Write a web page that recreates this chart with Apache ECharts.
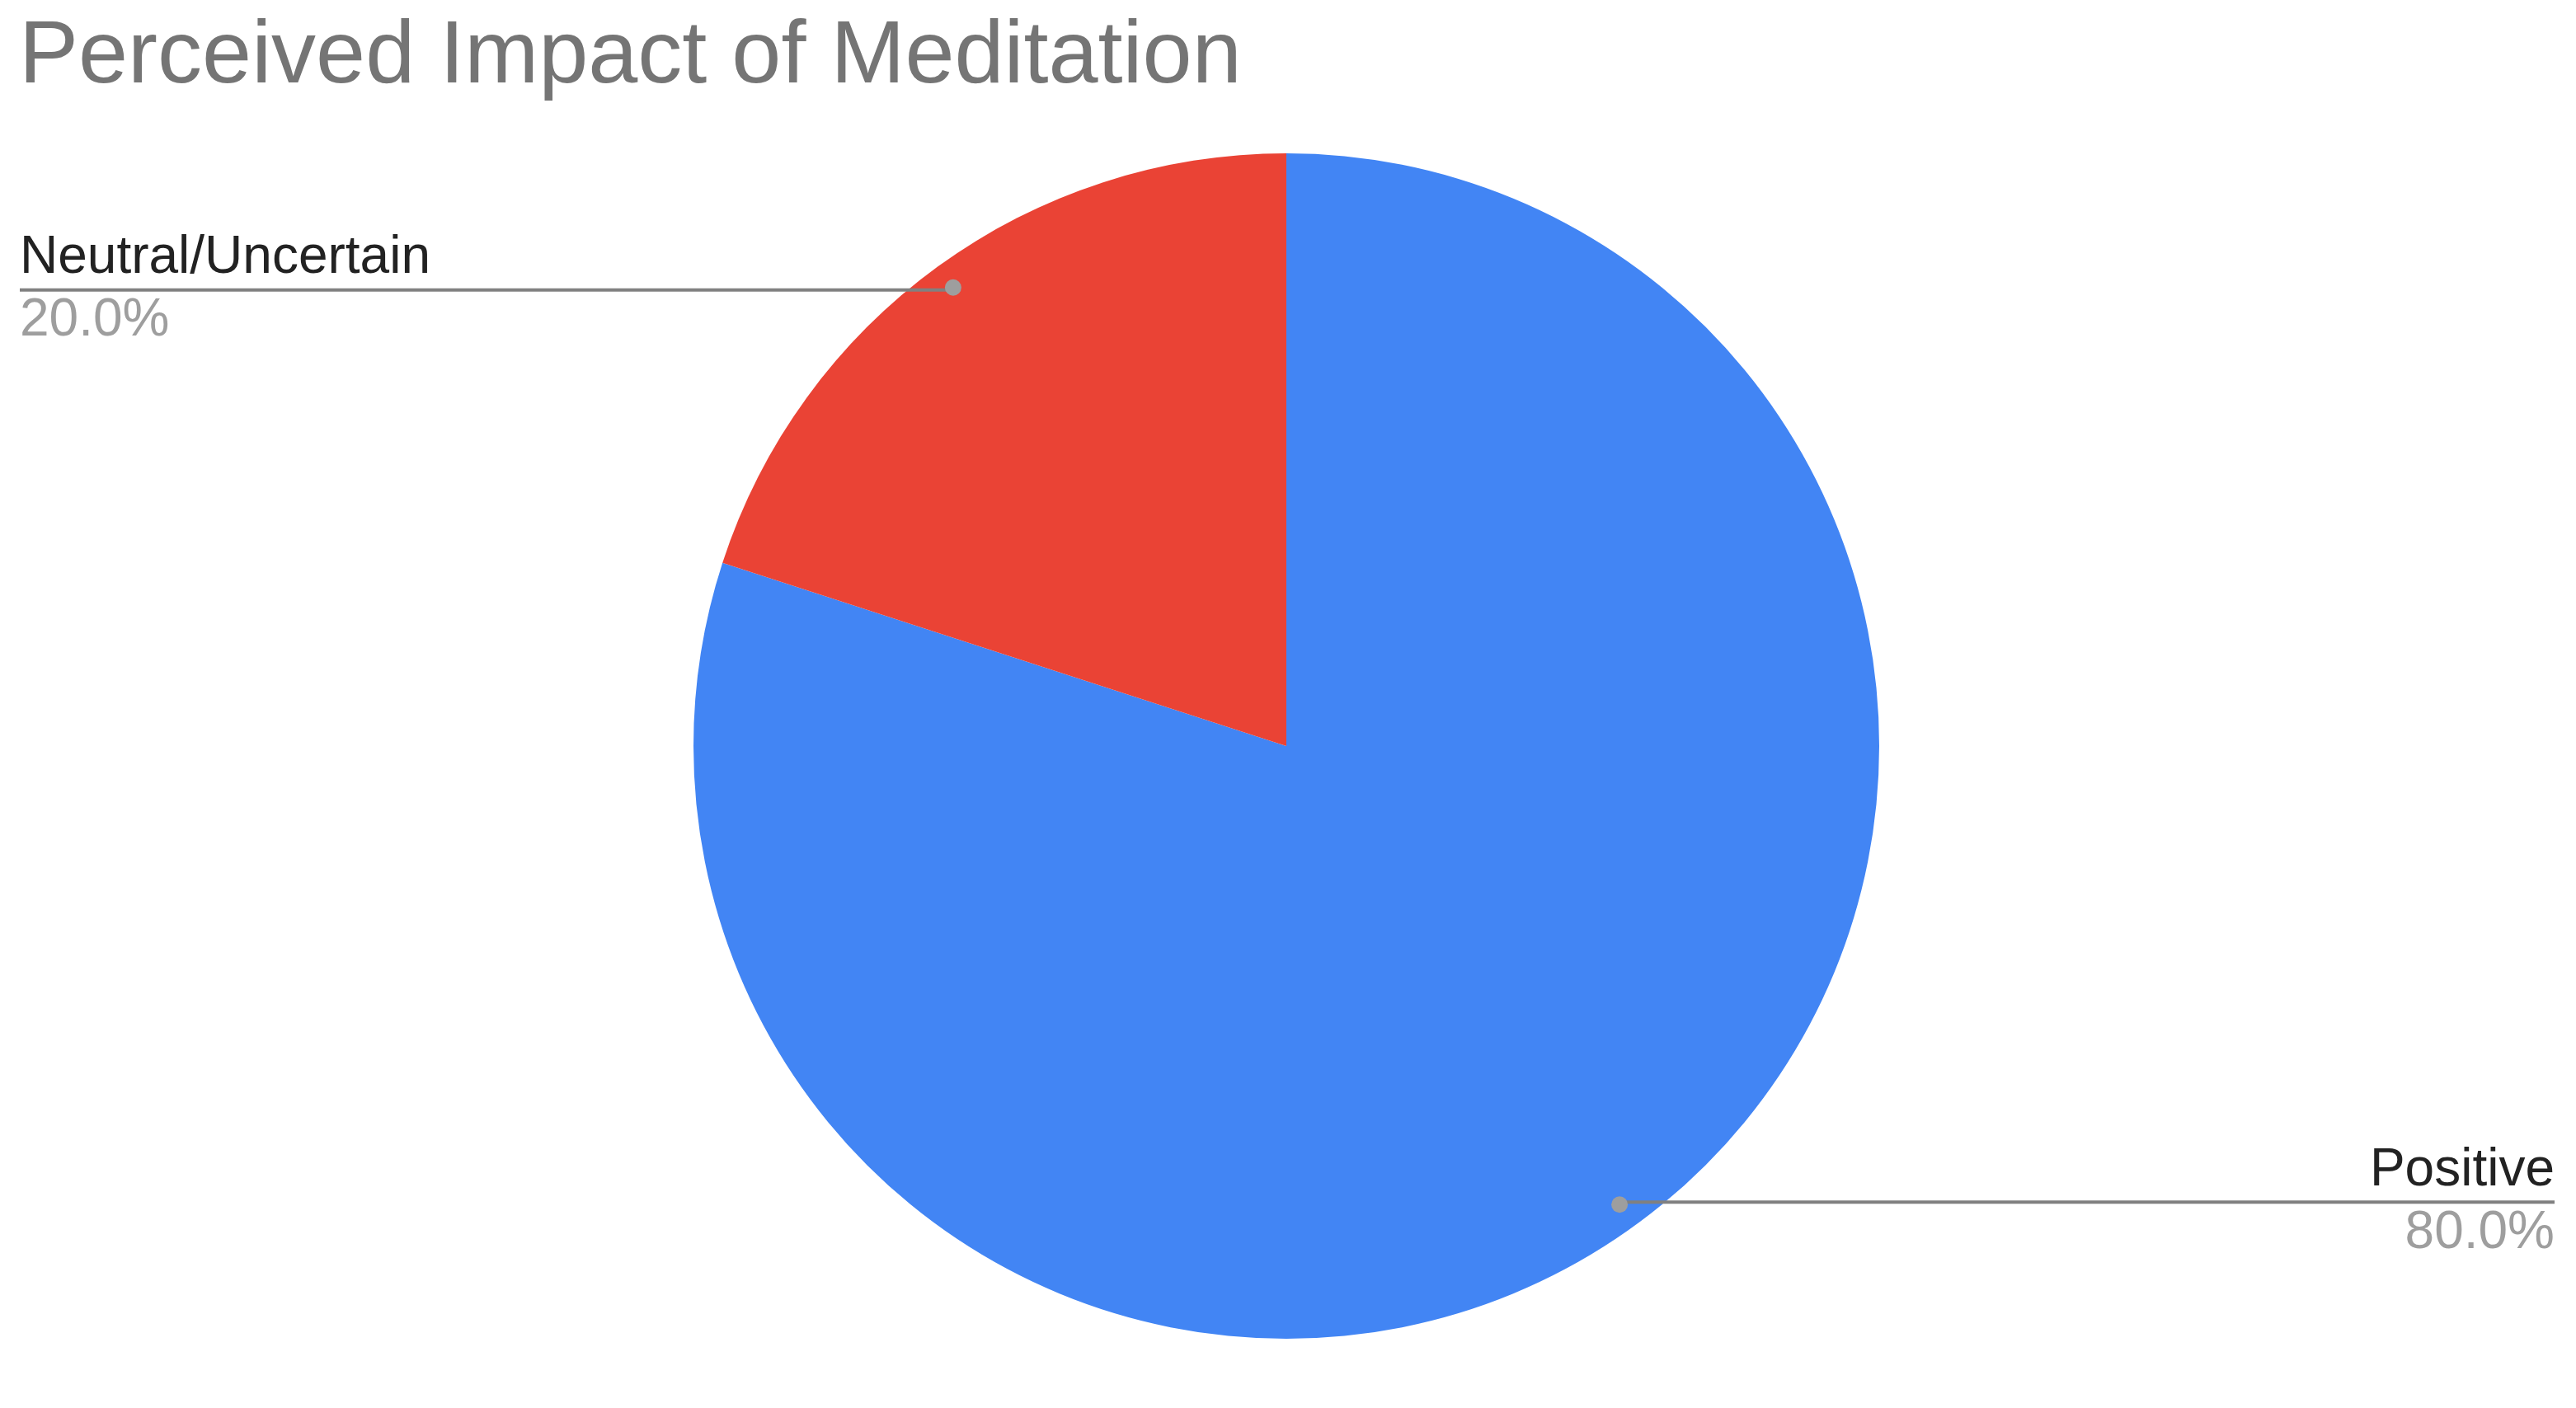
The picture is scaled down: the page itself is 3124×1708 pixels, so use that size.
<!DOCTYPE html>
<html>
<head>
<meta charset="utf-8">
<script src="https://cdn.jsdelivr.net/npm/echarts@6/dist/echarts.min.js"></script>
<style>
html,body{margin:0;padding:0;background:#fff;}
#main{width:3124px;height:1708px;}
</style>
</head>
<body>
<div id="main"></div>
<script>
const titleText = 'Perceived Impact of Meditation';
const categories = ['Positive', 'Neutral/Uncertain'];
const values = [80, 20];
const colors = ['#4285F4', '#EA4335'];

const chart = echarts.init(document.getElementById('main'), null, {renderer: 'canvas'});
const W = chart.getWidth();
const data = categories.map((c, i) => ({name: c, value: values[i], itemStyle: {color: colors[i]}}));
const ghostData = categories.map((c, i) => ({name: c, value: values[i]}));
const FONT = '"Liberation Sans", Arial, sans-serif';
const CENTER = [1560, 905];
const R = 719;
const EDGE_L = 24, EDGE_R = 26;

const option = {
  animation: false,
  backgroundColor: '#ffffff',
  title: {
    text: titleText,
    left: 18,
    top: 11,
    textStyle: {fontFamily: FONT, fontSize: 108, fontWeight: 'normal', color: '#757575'}
  },
  series: [
    {
      type: 'pie',
      z: 1,
      center: CENTER,
      radius: R,
      startAngle: 90,
      clockwise: true,
      silent: true,
      label: {show: false},
      labelLine: {show: false},
      data: data
    },
    {
      type: 'pie',
      z: 5,
      center: CENTER,
      radius: Math.round(R * 0.952),
      startAngle: 90,
      clockwise: true,
      silent: true,
      itemStyle: {color: 'rgba(0,0,0,0)'},
      label: {
        show: true,
        position: 'outer',
        fontFamily: FONT,
        formatter: p => '{n|' + p.name + '}\n{p|' + p.percent.toFixed(1) + '%}',
        rich: {
          n: {fontFamily: FONT, fontSize: 64, color: '#222222', lineHeight: 76},
          p: {fontFamily: FONT, fontSize: 64, color: '#9e9e9e', lineHeight: 76}
        }
      },
      labelLine: {show: true, length: 0, length2: 10, lineStyle: {color: '#808080', width: 4}},
      labelLayout: function (params) {
        const pts = params.labelLinePoints;
        if (!pts) return {};
        const p0 = pts[0];
        const left = p0[0] < W / 2;
        const ex = left ? EDGE_L : W - EDGE_R;
        return {
          x: ex,
          y: p0[1],
          align: left ? 'left' : 'right',
          verticalAlign: 'middle',
          labelLinePoints: [[p0[0], p0[1]], [p0[0], p0[1]], [ex, p0[1]]]
        };
      },
      data: ghostData
    },
    {
      type: 'pie',
      z: 8,
      center: CENTER,
      radius: [Math.round(R * 0.904), R],
      startAngle: 90,
      clockwise: true,
      silent: true,
      itemStyle: {color: 'rgba(0,0,0,0)'},
      label: {
        show: true,
        position: 'inside',
        formatter: '{d|}',
        rich: {d: {width: 20, height: 20, borderRadius: 10, backgroundColor: '#9e9e9e'}}
      },
      labelLine: {show: false},
      data: ghostData
    }
  ]
};
chart.setOption(option);
</script>
</body>
</html>
